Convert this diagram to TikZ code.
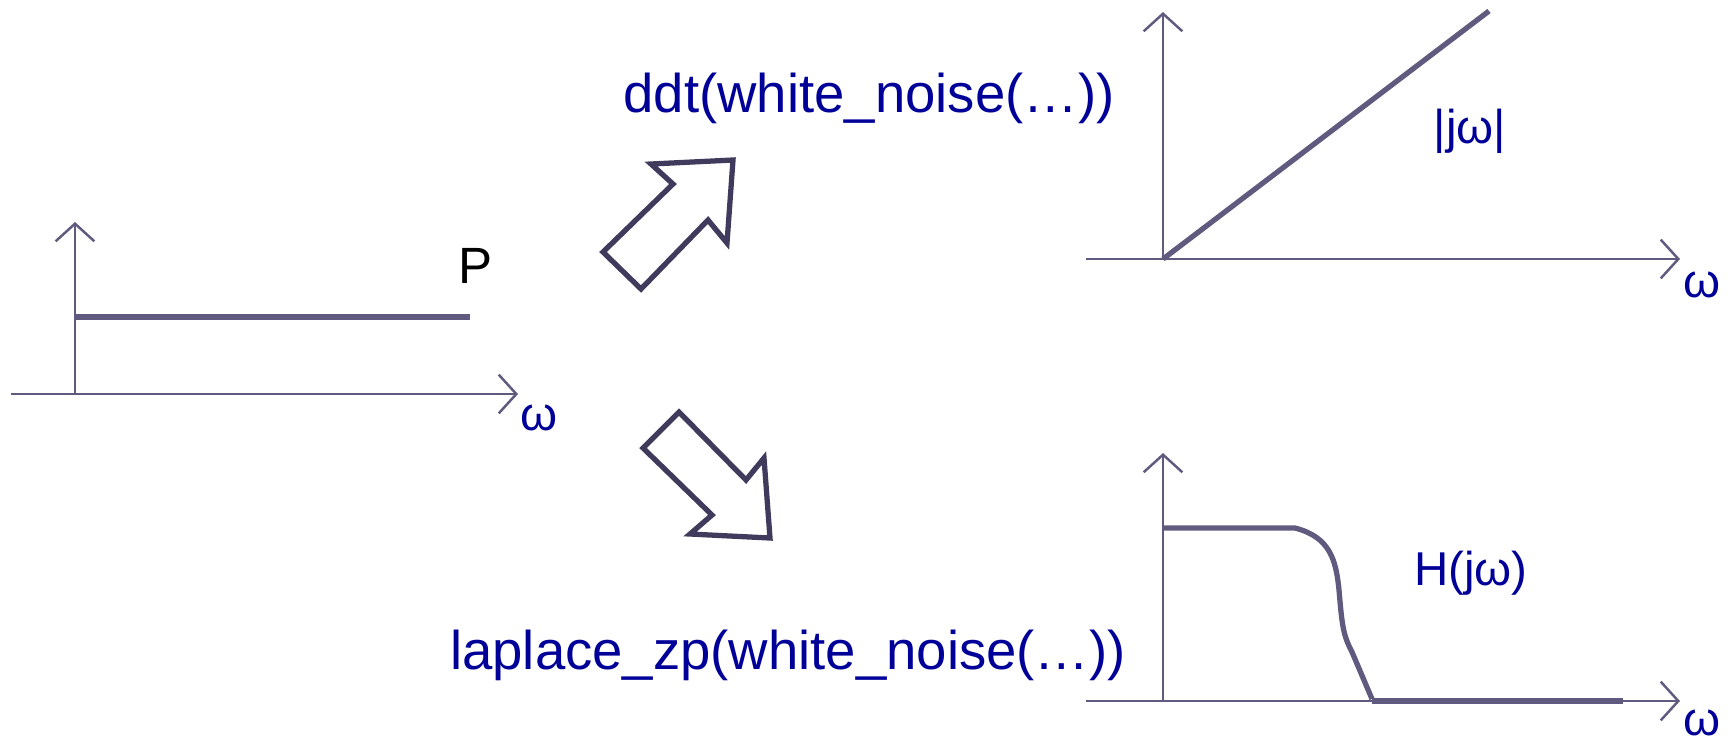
\documentclass[tikz,border=0pt]{standalone}
\usepackage[usenames,dvipsnames]{xcolor}
\usepackage{fontspec}
\setmainfont{Liberation Sans}
\usepackage{tikz}
\usetikzlibrary{arrows.meta}

\definecolor{axisColor}{RGB}{96,91,126}
\definecolor{blockColor}{RGB}{64,59,92}
\definecolor{labelColor}{RGB}{0,0,153}

\begin{document}
\begin{tikzpicture}[x=0.01cm,y=-0.01cm,
  axis/.style={draw=axisColor,line width=0.7pt,-{Straight Barb[length=5pt,width=11pt,line width=0.7pt]}},
  curve/.style={draw=axisColor,line width=1.5pt},
  block/.style={draw=blockColor,line width=1.5pt,line join=miter},
  fnText/.style={text=labelColor,inner sep=0pt,anchor=base,font=\fontsize{15.5}{18}\selectfont},
  axLabel/.style={text=labelColor,inner sep=0pt,anchor=base,font=\fontsize{13.5}{16}\selectfont}]
\useasboundingbox (0,0) rectangle (1733,741);

% the three spectra: origin, x range, top of y axis, omega label
\foreach \ox/\oy/\xl/\xr/\yt/\wx/\wy/\nm in {75/394/11/518/222/539/430/in,
    1163/259/1086/1680/12/1702/297/dif, 1163/701/1086/1680/453/1702/735/lp} {
  \coordinate (\nm O) at (\ox,\oy);
  \draw[axis] (\xl,\oy) -- (\xr,\oy);
  \draw[axis] (\nm O) -- (\ox,\yt);
  \node[axLabel] (\nm W) at (\wx,\wy) {ω};
}

% flat input spectrum
\draw[curve] (75,317) -- (470,317);
\node[inner sep=0pt,anchor=base,font=\fontsize{14.5}{17}\selectfont] (pLvl) at (475,283) {P};

% derivative
\draw[curve] (difO) -- (1489,11);
\node[axLabel] (difLbl) at (1470,143) {|jω|};

% low pass
\draw[curve] (1163,528) -- (1295,528) .. controls (1330,537) and (1336,560) .. (1339,590)
  .. controls (1342,625) and (1343,635) .. (1352,652) -- (1372,699);
\draw[curve] (1372,701) -- (1623,701);
\node[axLabel] (lpLbl) at (1471,585) {H(jω)};

% block arrows
\draw[block] (641,289) -- (603,252) -- (673,184) -- (651,164) -- (733,160) -- (727,243) -- (708,220) -- cycle;
\draw[block] (679,412) -- (643,448) -- (712,515) -- (690,534) -- (770,538) -- (764,458) -- (746,480) -- cycle;

\node[fnText] (ddt) at (869,112) {ddt(white\_noise(…))};
\node[fnText] (lap) at (788,669) {laplace\_zp(white\_noise(…))};
\end{tikzpicture}
\end{document}
